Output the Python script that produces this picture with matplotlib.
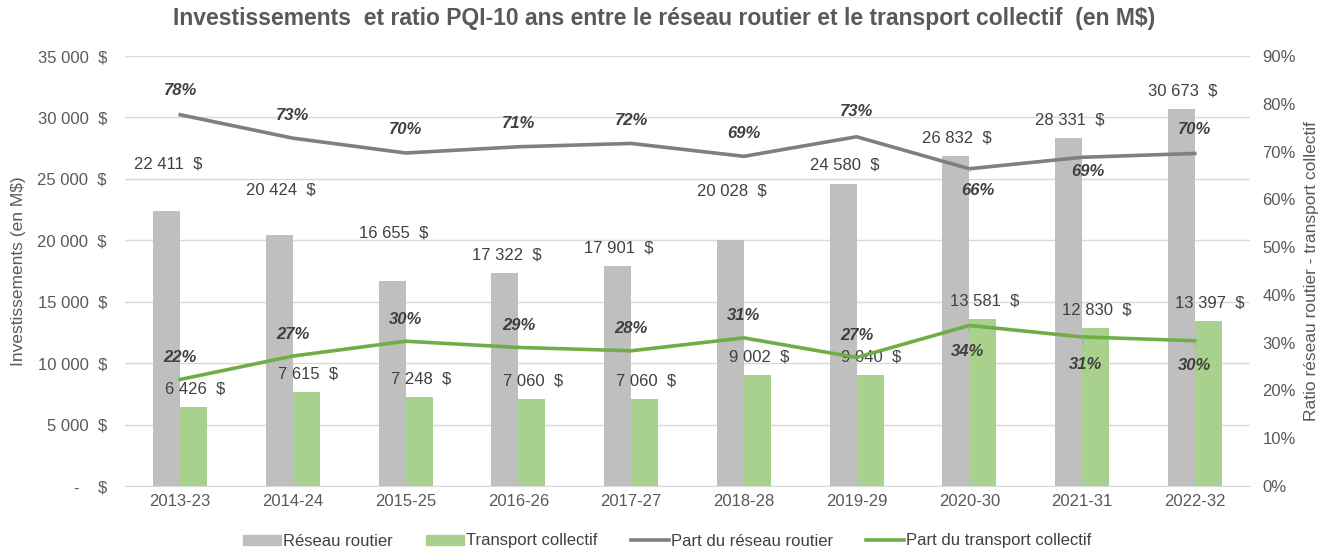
import matplotlib
matplotlib.use("Agg")
import matplotlib.pyplot as plt
from matplotlib.ticker import FuncFormatter, MultipleLocator
from matplotlib.patches import Patch
from matplotlib.lines import Line2D

plt.rcParams['font.family'] = ['Liberation Sans', 'DejaVu Sans']

categories = ["2013-23", "2014-24", "2015-25", "2016-26", "2017-27",
              "2018-28", "2019-29", "2020-30", "2021-31", "2022-32"]
reseau_routier = [22411, 20424, 16655, 17322, 17901, 20028, 24580, 26832, 28331, 30673]
transport_collectif = [6426, 7615, 7248, 7060, 7060, 9002, 9040, 13581, 12830, 13397]
part_routier = [0.777, 0.728, 0.697, 0.710, 0.717, 0.690, 0.731, 0.664, 0.688, 0.696]
part_collectif = [0.223, 0.272, 0.303, 0.290, 0.283, 0.310, 0.269, 0.336, 0.312, 0.304]
part_routier_labels = ["78%", "73%", "70%", "71%", "72%", "69%", "73%", "66%", "69%", "70%"]
part_collectif_labels = ["22%", "27%", "30%", "29%", "28%", "31%", "27%", "34%", "31%", "30%"]

# label placement (pixel offsets of label centres)
road_lbl_dy = [47, 45, 48, 18, 18, 49, 19, 18, 18, 18]
road_pct_dy = [24, 23, 23, 23, 23, 23, 25, -22, -14, 24]
road_pct_dx = [0, 0, 0, 0, 0, 0, 0, 9, 6, 0]
road_pct_leader = [False] * 7 + [True, False, False]
tc_pct_dy = [22, 22, 22, 22, 22, 22, 22, -26, -28, -25]
tc_pct_dx = [0, 0, 0, 0, 0, 0, 0, -2, 3, 0]
tc_pct_leader = [False] * 7 + [True, True, True]

C_ROAD = "#bfbfbf"
C_TC = "#a9d18e"
C_ROAD_LINE = "#7f7f7f"
C_TC_LINE = "#70ad47"
C_TEXT = "#404040"
C_TICK = "#595959"
FS = 12

PX = 72 / 100.0

fig = plt.figure(figsize=(13.3, 5.52), dpi=100)
ax = fig.add_axes([125 / 1330, 1 - 486 / 552, (1250 - 125) / 1330, (486 - 56) / 552])
ax2 = ax.twinx()

x = list(range(len(categories)))
w = 0.24
xr = [i - w / 2 for i in x]
xt = [i + w / 2 for i in x]
ax.bar(xr, reseau_routier, width=w, color=C_ROAD, zorder=2)
ax.bar(xt, transport_collectif, width=w, color=C_TC, zorder=2)

def money(v):
    return f"{v:,}".replace(",", " ") + "  $"

for i in x:
    ax.annotate(money(reseau_routier[i]), (xr[i], reseau_routier[i]),
                xytext=(1.5 * PX, road_lbl_dy[i] * PX), textcoords="offset points",
                ha="center", va="center", fontsize=FS, color=C_TEXT)
    ax.annotate(money(transport_collectif[i]), (xt[i], transport_collectif[i]),
                xytext=(1.5 * PX, 18 * PX), textcoords="offset points",
                ha="center", va="center", fontsize=FS, color=C_TEXT)

ax.set_ylim(0, 35000)
ax.set_xlim(-0.49, 9.49)
ax.yaxis.set_major_locator(MultipleLocator(5000))
ax.yaxis.set_major_formatter(FuncFormatter(
    lambda v, p: "-    $" if v == 0 else f"{int(v):,}".replace(",", " ") + "  $"))
ax.set_xticks(x)
ax.set_xticklabels(categories)
ax.grid(axis="y", color="#d9d9d9", linewidth=1, zorder=0)
ax.set_axisbelow(True)
for s in ["top", "right", "left"]:
    ax.spines[s].set_visible(False)
ax.spines["bottom"].set_color("#d9d9d9")
ax.tick_params(axis="both", length=0, labelsize=FS, labelcolor=C_TICK)
ax.tick_params(axis="y", pad=13)
ax.tick_params(axis="x", pad=6)
ax.set_ylabel("Investissements (en M$)", fontsize=12.5, color=C_TICK, labelpad=8)

ax2.plot(x, part_routier, color=C_ROAD_LINE, linewidth=2.6, zorder=3)
ax2.plot(x, part_collectif, color=C_TC_LINE, linewidth=2.6, zorder=3)
ax2.set_ylim(0, 0.9)
ax2.yaxis.set_major_locator(MultipleLocator(0.1))
ax2.yaxis.set_major_formatter(FuncFormatter(lambda v, p: f"{v*100:.0f}%"))
for s in ["top", "right", "left", "bottom"]:
    ax2.spines[s].set_visible(False)
ax2.tick_params(axis="y", length=0, labelsize=FS, labelcolor=C_TICK, pad=9)
ax2.set_ylabel("Ratio réseau routier - transport collectif", fontsize=12.5,
               color=C_TICK, labelpad=6)

def pct_label(xi, yi, txt, dx, dy, leader):
    kw = {}
    if leader:
        kw["arrowprops"] = dict(arrowstyle="-", color="#a6a6a6", lw=0.8,
                                shrinkA=7, shrinkB=0)
    ax2.annotate(txt, (xi, yi), xytext=(dx * PX, dy * PX), textcoords="offset points",
                 ha="center", va="center", fontsize=FS, fontweight="bold",
                 fontstyle="italic", color=C_TEXT, zorder=5, **kw)

for i in x:
    pct_label(i, part_routier[i], part_routier_labels[i], road_pct_dx[i],
              road_pct_dy[i], road_pct_leader[i])
    pct_label(i, part_collectif[i], part_collectif_labels[i], tc_pct_dx[i],
              tc_pct_dy[i], tc_pct_leader[i])

fig.text(664 / 1330, 1 - 19 / 552, "Investissements  et ratio PQI-10 ans entre le réseau routier et le transport collectif  (en M$)",
         ha="center", va="center", fontsize=16.5, fontweight="bold", color=C_TICK)

handles = [Patch(color=C_ROAD), Patch(color=C_TC),
           Line2D([], [], color=C_ROAD_LINE, lw=2.6),
           Line2D([], [], color=C_TC_LINE, lw=2.6)]
labels = ["Réseau routier", "Transport collectif", "Part du réseau routier",
          "Part du transport collectif"]
fig.legend(handles, labels, loc="center", bbox_to_anchor=(667 / 1330, 1 - 541 / 552),
           ncol=4, frameon=False, fontsize=FS, labelcolor=C_TEXT,
           handlelength=2.3, handleheight=0.55, handletextpad=0.1, columnspacing=2.0)

fig.savefig("out.png", dpi=100)
